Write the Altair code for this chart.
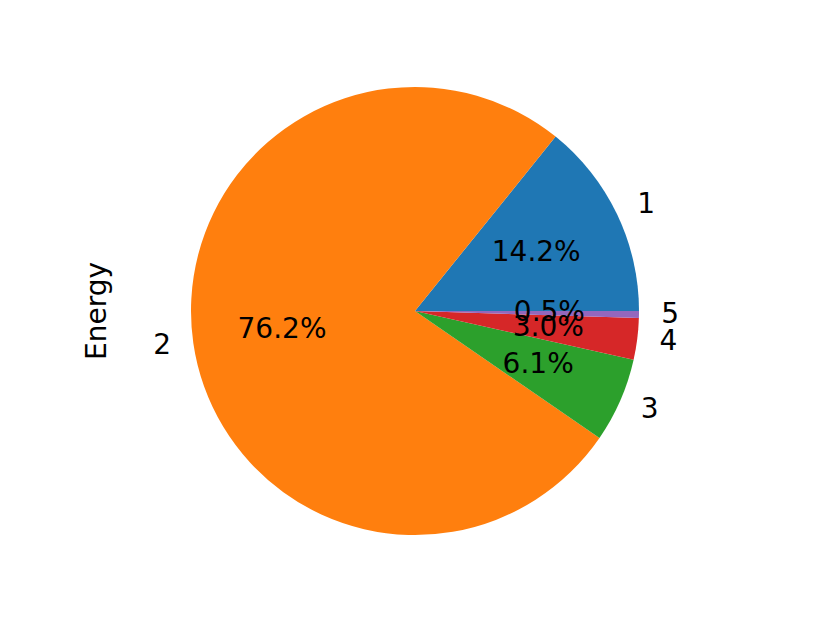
import altair as alt
import pandas as pd
import math

categories = ["1", "2", "3", "4", "5"]
shares = [14.2, 76.2, 6.1, 3.0, 0.5]
colors = ["#1f77b4", "#ff7f0e", "#2ca02c", "#d62728", "#9467bd"]
left_labels = ["2"]

df = pd.DataFrame({"cat": categories, "value": shares, "order": list(range(len(categories)))})

R = 224
FONT = "DejaVu Sans"
FS = 28
theta_scale = alt.Scale(domain=[0, 100], range=[math.pi / 2, math.pi / 2 - 2 * math.pi])

base = alt.Chart(df).transform_stack(
    stack="value", groupby=[], as_=["start", "end"], sort=[alt.SortField("order")]
).transform_calculate(
    mid="(datum.start + datum.end) / 2",
    pct="format(datum.value, '.1f') + '%'",
)

arcs = base.mark_arc(radius=R).encode(
    theta=alt.Theta("start:Q", scale=theta_scale),
    theta2="end:Q",
    color=alt.Color("cat:N", scale=alt.Scale(domain=categories, range=colors), legend=None),
)

pct_text = base.mark_text(radius=R * 0.6, font=FONT, fontSize=FS, color="black", baseline="middle", align="center").encode(
    theta=alt.Theta("mid:Q", scale=theta_scale),
    text="pct:N",
)

left_expr = "indexof(" + str(left_labels) + ", datum.cat)"

lbl_right = base.transform_filter(left_expr + " < 0").mark_text(
    radius=R * 1.1, font=FONT, fontSize=FS, color="black", baseline="middle", align="left"
).encode(
    theta=alt.Theta("mid:Q", scale=theta_scale),
    text="cat:N",
)

lbl_left = base.transform_filter(left_expr + " >= 0").mark_text(
    radius=R * 1.1, font=FONT, fontSize=FS, color="black", baseline="middle", align="right"
).encode(
    theta=alt.Theta("mid:Q", scale=theta_scale),
    text="cat:N",
)

ylabel = alt.Chart(pd.DataFrame({"t": ["Energy"]})).mark_text(
    font=FONT, fontSize=FS, angle=270, baseline="middle", align="center", color="black"
).encode(x=alt.value(90), y=alt.value(303), text="t:N")

chart = alt.layer(arcs, pct_text, lbl_right, lbl_left, ylabel).properties(
    width=814, height=606, autosize=alt.AutoSizeParams(type="none"), padding=0
).configure_view(stroke=None)

chart.save("out.html", embed_options={"renderer": "svg", "actions": False})
